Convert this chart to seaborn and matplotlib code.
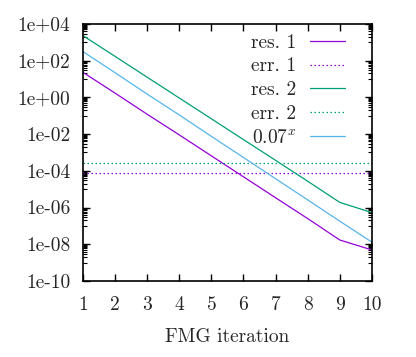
import numpy as np
import pandas as pd
import matplotlib
matplotlib.use("Agg")
import matplotlib.pyplot as plt
import matplotlib.ticker as mticker
import seaborn as sns

# values
iterations = [1, 2, 3, 4, 5, 6, 7, 8, 9, 10]
res_1 = [23, 1.7, 0.12, 9e-3, 6.5e-4, 4.7e-5, 3.4e-6, 2.5e-7, 1.7e-8, 4.9e-9]
err_1 = [8e-5] * 10
res_2 = [2300, 170, 12.5, 0.92, 0.068, 5e-3, 3.7e-4, 2.7e-5, 1.9e-6, 5.3e-7]
err_2 = [2.8e-4] * 10
rate = [310, 22, 1.5, 0.11, 7.5e-3, 5.3e-4, 3.7e-5, 2.6e-6, 1.8e-7, 1.3e-8]

labels = ["res. 1", "err. 1", "res. 2", "err. 2", r"$0.07^x$"]
colors = ["#9400d3", "#9400d3", "#009e73", "#009e73", "#56b4e9"]
dashes = ["-", (0, (1.2, 2)), "-", (0, (1.2, 2)), "-"]

sns.set_theme(style="ticks")
plt.rcParams["font.family"] = "serif"
plt.rcParams["font.serif"] = ["cmr10", "DejaVu Serif"]
plt.rcParams["mathtext.fontset"] = "cm"
plt.rcParams["axes.formatter.use_mathtext"] = True

fig = plt.figure(figsize=(4.16, 3.57), dpi=100)
ax = fig.add_axes([0.1995, 0.213, 0.6945, 0.72])

for series, label, color, ls in zip([res_1, err_1, res_2, err_2, rate], labels, colors, dashes):
    df = pd.DataFrame({"it": iterations, "val": series})
    sns.lineplot(data=df, x="it", y="val", ax=ax, color=color, linestyle=ls,
                 linewidth=0.9, label=label)

ax.set_yscale("log")
ax.set_xlim(1, 10)
ax.set_ylim(1e-10, 1e4)
ax.set_xticks(iterations)
ax.set_xticklabels([str(i) for i in iterations])
major = [10.0 ** e for e in range(-10, 5, 2)]
ax.yaxis.set_major_locator(mticker.FixedLocator(major))
ax.yaxis.set_major_formatter(mticker.FuncFormatter(lambda v, p: "1e%+03d" % round(np.log10(v))))
minor = [k * 10.0 ** e for e in range(-9, 5, 2) for k in range(1, 10)]
ax.yaxis.set_minor_locator(mticker.FixedLocator(minor))
ax.yaxis.set_minor_formatter(mticker.NullFormatter())
ax.tick_params(which="major", direction="in", length=5, width=1, top=True, right=True,
               labelsize=14, color="black", pad=9)
ax.tick_params(axis="x", which="major", pad=11)
ax.tick_params(which="minor", direction="in", length=3, width=0.8, top=False, right=True,
               left=True, color="black")
ax.tick_params(axis="x", which="minor", bottom=False, top=False)
for sp in ax.spines.values():
    sp.set_color("black")
    sp.set_linewidth(1.2)

ax.set_xlabel("FMG iteration", fontsize=14, labelpad=10)
ax.set_ylabel("")
ax.legend(loc="upper right", frameon=False, markerfirst=False, fontsize=14,
          handlelength=1.8, labelspacing=0.3, borderaxespad=0.1, handletextpad=0.7,
          bbox_to_anchor=(0.94, 1.0))

fig.savefig("out.png", dpi=100)
